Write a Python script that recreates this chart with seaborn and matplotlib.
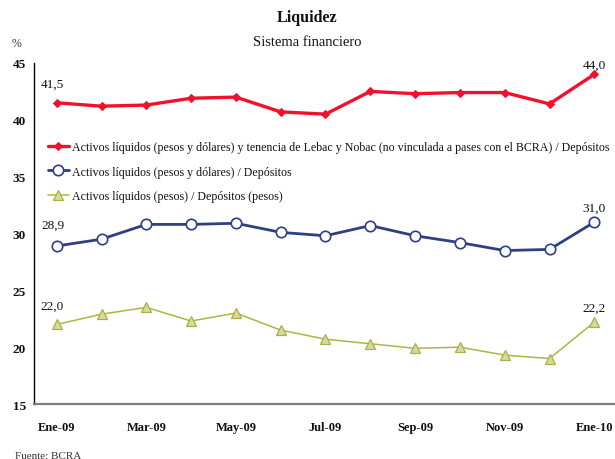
import matplotlib
matplotlib.use("Agg")
import matplotlib.pyplot as plt
import seaborn as sns
import numpy as np
import pandas as pd

months = ["Ene-09", "Feb-09", "Mar-09", "Abr-09", "May-09", "Jun-09", "Jul-09",
          "Ago-09", "Sep-09", "Oct-09", "Nov-09", "Dic-09", "Ene-10"]
red_vals = [41.5, 41.2, 41.3, 41.9, 42.0, 40.7, 40.5, 42.5, 42.3, 42.4, 42.4, 41.4, 44.0]
blue_vals = [28.9, 29.5, 30.8, 30.8, 30.9, 30.1, 29.8, 30.7, 29.8, 29.2, 28.5, 28.6, 31.0]
green_vals = [22.0, 22.9, 23.5, 22.3, 23.0, 21.5, 20.7, 20.3, 19.9, 20.0, 19.3, 19.0, 22.2]
labels = ["Activos líquidos (pesos y dólares) y tenencia de Lebac y Nobac (no vinculada a pases con el BCRA) / Depósitos",
          "Activos líquidos (pesos y dólares) / Depósitos",
          "Activos líquidos (pesos) / Depósitos (pesos)"]
yticks = [15, 20, 25, 30, 35, 40, 45]

sns.set_theme(style="white")
plt.rcParams['font.family'] = ['Liberation Serif', 'DejaVu Serif']

W, H = 615, 460
fig = plt.figure(figsize=(W / 100, H / 100), dpi=100)
ax = fig.add_axes([34.3 / W, 1 - 405 / H, 1 - 34.3 / W, (405 - 64) / H])

x = np.arange(len(months))
df = pd.DataFrame({"x": x, "red": red_vals, "blue": blue_vals, "green": green_vals})

sns.lineplot(data=df, x="x", y="red", ax=ax, color="#F2102A", lw=2.4,
             marker="D", markersize=4.5, markeredgecolor="#F2102A", label=labels[0])
sns.lineplot(data=df, x="x", y="blue", ax=ax, color="#2E3F83", lw=2.0,
             marker="o", markersize=7.5, markerfacecolor="white",
             markeredgecolor="#2E3F83", markeredgewidth=1.2, label=labels[1])
sns.lineplot(data=df, x="x", y="green", ax=ax, color="#AFB443", lw=1.1,
             marker="^", markersize=7, markerfacecolor="#D8DA9C",
             markeredgecolor="#A9AE48", markeredgewidth=0.9, label=labels[2])

ax.set_xlim(-0.5, -0.5 + (W - 34.3) / 44.8)
ax.set_ylim(15, 45)
ax.set_xlabel("")
ax.set_ylabel("")

ax.set_yticks(yticks)
ax.set_yticklabels([str(v) for v in yticks], fontweight="bold", fontsize=9.5)
ax.tick_params(axis="y", direction="in", length=4, width=1, color="black", pad=6, labelcolor="#111111")

ax.set_xticks(np.arange(1.5, 12, 2))
ax.set_xticklabels([])
ax.set_xticks(x[::2], minor=True)
ax.set_xticklabels(months[::2], minor=True, fontweight="bold", fontsize=9)
ax.tick_params(axis="x", which="major", direction="in", length=3.5, width=1, color="black")
ax.tick_params(axis="x", which="minor", length=0, pad=12, labelcolor="#111111")

for s in ["top", "right"]:
    ax.spines[s].set_visible(False)
ax.spines["left"].set_color("black")
ax.spines["left"].set_linewidth(1.0)
ax.spines["bottom"].set_color("#7f7f7f")
ax.spines["bottom"].set_linewidth(1.6)
ax.grid(False)

def ann(xi, v, dx, dy):
    ax.annotate(f"{v:.1f}".replace(".", ","), (xi, v), xytext=(dx * 0.72, dy * 0.72),
                textcoords="offset points", ha="center", va="center", fontsize=9.5,
                color="#111111")

ann(0, red_vals[0], -4, 19)
ann(12, red_vals[-1], 0, 10)
ann(0, blue_vals[0], -4, 21)
ann(12, blue_vals[-1], 0, 14)
ann(0, green_vals[0], -5, 19)
ann(12, green_vals[-1], 0, 14)

leg = ax.legend(loc="upper left", bbox_to_anchor=(48 / W, 1 - 142 / H),
                bbox_transform=fig.transFigure, frameon=False, fontsize=8.6,
                borderpad=0, borderaxespad=0, handlelength=1.75, handletextpad=0.25,
                labelspacing=1.05)
for t in leg.get_texts():
    t.set_color("#111111")

fig.text(0.5, 1 - 18 / H, "Liquidez", ha="center", va="center", fontsize=11.5,
         fontweight="bold", color="#111111")
fig.text(0.5, 1 - 42 / H, "Sistema financiero", ha="center", va="center", fontsize=10.5,
         color="#111111")
fig.text(12 / W, 1 - 44 / H, "%", ha="left", va="center", fontsize=8.5, color="#333333")
fig.text(15 / W, 1 - 457 / H, "Fuente: BCRA", ha="left", va="center", fontsize=8,
         color="#333333")

fig.savefig("out.png", dpi=100)
